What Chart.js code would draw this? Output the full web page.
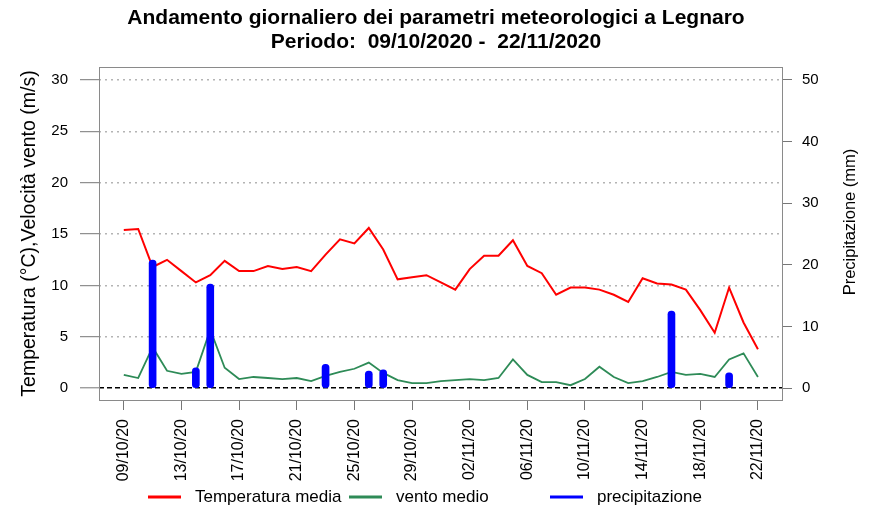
<!DOCTYPE html>
<html>
<head>
<meta charset="utf-8">
<script src="https://cdn.jsdelivr.net/npm/chart.js@4.4.1/dist/chart.umd.min.js"></script>
<style>
  html, body { margin: 0; padding: 0; background: #ffffff; }
  canvas { display: block; }
</style>
</head>
<body>
<canvas id="meteo" width="872" height="508"></canvas>
<script>
// Giorni del periodo (etichette asse x)
const giorni = [
    '09/10/20', '10/10/20', '11/10/20', '12/10/20', '13/10/20', '14/10/20', '15/10/20', '16/10/20',
    '17/10/20', '18/10/20', '19/10/20', '20/10/20', '21/10/20', '22/10/20', '23/10/20', '24/10/20',
    '25/10/20', '26/10/20', '27/10/20', '28/10/20', '29/10/20', '30/10/20', '31/10/20', '01/11/20',
    '02/11/20', '03/11/20', '04/11/20', '05/11/20', '06/11/20', '07/11/20', '08/11/20', '09/11/20',
    '10/11/20', '11/11/20', '12/11/20', '13/11/20', '14/11/20', '15/11/20', '16/11/20', '17/11/20',
    '18/11/20', '19/11/20', '20/11/20', '21/11/20', '22/11/20'
];

// Temperatura media (°C)
const temperaturaMedia = [
    15.4, 15.5, 11.8, 12.5, 11.4, 10.3, 11.0, 12.4, 11.4, 11.4, 11.9, 11.6, 11.8, 11.4, 13.0,
    14.5, 14.1, 15.6, 13.5, 10.6, 10.8, 11.0, 10.3, 9.6, 11.6, 12.9, 12.9, 14.4, 11.9, 11.2,
    9.1, 9.8, 9.8, 9.6, 9.1, 8.4, 10.7, 10.2, 10.1, 9.6, 7.6, 5.4, 9.8, 6.4, 3.8
];

// Vento medio (m/s)
const ventoMedio = [
    1.3, 1.0, 4.0, 1.7, 1.4, 1.6, 5.7, 2.0, 0.9, 1.1, 1.0, 0.9, 1.0, 0.7, 1.2,
    1.6, 1.9, 2.5, 1.5, 0.8, 0.5, 0.5, 0.7, 0.8, 0.9, 0.8, 1.0, 2.8, 1.3, 0.6,
    0.6, 0.3, 0.9, 2.1, 1.1, 0.5, 0.7, 1.1, 1.6, 1.3, 1.4, 1.1, 2.8, 3.4, 1.1
];

// Precipitazione (mm)
const precipitazione = [
    0, 0, 20.8, 0, 0, 3.3, 16.9, 0, 0, 0, 0, 0, 0, 0, 3.9,
    0, 0, 2.8, 3.0, 0, 0, 0, 0, 0, 0, 0, 0, 0, 0, 0,
    0, 0, 0, 0, 0, 0, 0, 0, 12.5, 0, 0, 0, 2.5, 0, 0
];

const titolo = [
    'Andamento giornaliero dei parametri meteorologici a Legnaro',
    'Periodo:  09/10/2020 -  22/11/2020'
];

const FONT = "'Liberation Sans', Arial, sans-serif";
Chart.defaults.font.family = FONT;
Chart.defaults.color = '#000';

const isZero = c => c.tick && c.tick.value === 0;

// Riquadro, titolo asse destro e legenda in stile R
const decorazioni = {
    id: 'decorazioni',
    afterDraw(chart) {
        const { ctx, chartArea: a } = chart;
        ctx.save();

        ctx.strokeStyle = '#8a8a8a';
        ctx.lineWidth = 1;
        ctx.strokeRect(Math.round(a.left) + 0.5, Math.round(a.top) + 0.5,
            Math.round(a.right - a.left), Math.round(a.bottom - a.top));

        ctx.fillStyle = '#000';
        ctx.font = '16.5px ' + FONT;
        ctx.textAlign = 'center';
        ctx.textBaseline = 'middle';
        ctx.translate(850, 222);
        ctx.rotate(-Math.PI / 2);
        ctx.fillText('Precipitazione (mm)', 0, 0);
        ctx.setTransform(1, 0, 0, 1, 0, 0);

        ctx.font = '17px ' + FONT;
        ctx.textAlign = 'left';
        chart.data.datasets.forEach((ds, k) => {
            const x0 = 148 + k * 201;
            ctx.strokeStyle = ds.type === 'bar' ? ds.backgroundColor : ds.borderColor;
            ctx.lineWidth = 3;
            ctx.beginPath();
            ctx.moveTo(x0, 497);
            ctx.lineTo(x0 + 33, 497);
            ctx.stroke();
            ctx.fillText(ds.label, x0 + 47, 497);
        });
        ctx.restore();
    }
};

const config = {
    type: 'line',
    data: {
        datasets: [
            {
                type: 'line',
                label: 'Temperatura media',
                data: temperaturaMedia.map((v, i) => ({ x: i, y: v })),
                borderColor: '#ff0000',
                borderWidth: 2,
                pointRadius: 0,
                tension: 0,
                yAxisID: 'y',
                order: 2
            },
            {
                type: 'line',
                label: 'vento medio',
                data: ventoMedio.map((v, i) => ({ x: i, y: v })),
                borderColor: '#2e8b57',
                borderWidth: 1.8,
                pointRadius: 0,
                tension: 0,
                yAxisID: 'y',
                order: 1
            },
            {
                type: 'bar',
                label: 'precipitazione',
                data: precipitazione.map((v, i) => ({ x: i, y: v > 0 ? v : null })),
                backgroundColor: '#0000ff',
                barThickness: 7,
                borderRadius: 3.5,
                borderSkipped: false,
                yAxisID: 'y2',
                order: 0
            }
        ]
    },
    options: {
        responsive: false,
        animation: false,
        layout: { padding: { top: 0, left: 0, right: 0, bottom: 20 } },
        plugins: {
            legend: { display: false },
            tooltip: { enabled: false },
            title: {
                display: true,
                text: titolo,
                color: '#000',
                font: { size: 21, weight: 'bold', lineHeight: '24px' },
                padding: { top: 6, bottom: 13 }
            }
        },
        scales: {
            x: {
                type: 'linear',
                min: -1.72,
                max: 45.67,
                offset: false,
                ticks: {
                    stepSize: 4,
                    includeBounds: false,
                    autoSkip: false,
                    minRotation: 90,
                    maxRotation: 90,
                    padding: 9,
                    font: { size: 16 },
                    callback: v => giorni[v] ?? ''
                },
                grid: { drawOnChartArea: false, offset: false, tickLength: 10, color: '#777' },
                border: { display: false },
                afterFit: s => { s.height = 88; }
            },
            y: {
                position: 'left',
                min: -1.14,
                max: 31.26,
                ticks: { stepSize: 5, includeBounds: false, padding: 12, font: { size: 15 } },
                grid: {
                    color: c => isZero(c) ? '#000' : '#b4b4b4',
                    lineWidth: c => isZero(c) ? 1.6 : 1.4,
                    tickLength: 19,
                    tickColor: '#777',
                    tickWidth: 1,
                    tickBorderDash: []
                },
                border: { display: false, dash: c => isZero(c) ? [5, 3] : [2, 4] },
                title: {
                    display: true,
                    text: 'Temperatura (°C),Velocità vento (m/s)',
                    font: { size: 19.5 },
                    padding: { top: 18, bottom: 0 }
                },
                afterFit: s => { s.width = 99; }
            },
            y2: {
                position: 'right',
                min: -1.9,
                max: 52.1,
                ticks: { stepSize: 10, includeBounds: false, padding: 10, font: { size: 15 } },
                grid: { drawOnChartArea: false, tickLength: 10, color: '#777' },
                border: { display: false },
                afterFit: s => { s.width = 90; }
            }
        }
    },
    plugins: [decorazioni]
};

new Chart(document.getElementById('meteo').getContext('2d'), config);
</script>
</body>
</html>
